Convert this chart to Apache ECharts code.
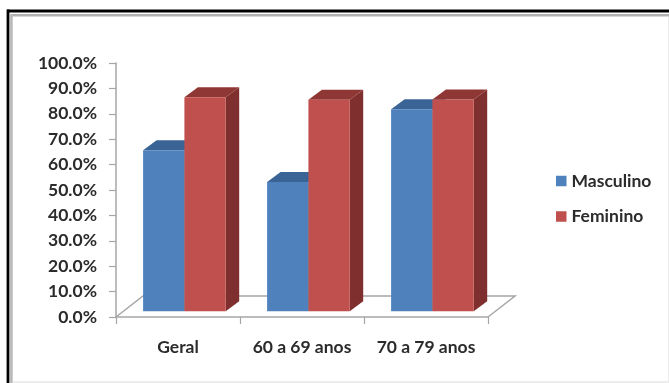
<!DOCTYPE html>
<html>
<head>
<meta charset="utf-8">
<script src="https://cdn.jsdelivr.net/npm/echarts@6/dist/echarts.min.js"></script>
<style>html,body{margin:0;padding:0;background:#fff}#c{width:669px;height:383px}</style>
</head>
<body>
<div id="c"></div>
<script>
const categories = ['Geral', '60 a 69 anos', '70 a 79 anos'];
const masculino = [63.4, 50.9, 79.5];
const feminino = [84.3, 83.3, 83.4];
const yTicks = [0, 10, 20, 30, 40, 50, 60, 70, 80, 90, 100];

const TEXT = '#2b2b2b';
const FONT = 'Lato, "Noto Sans", sans-serif';
const FONT_SIZE = 17.5;
const DEPTH_X = 27, DEPTH_Y = -21;          // full floor depth
const BAR_DX = 13.5, BAR_DY = -10;          // extruded depth of a bar
const BAR_W = 41.3;
const LINE = '#a6a6a6';

// Draws one extruded bar: front face, top face and right side face.
function bar3d(palette, side) {
  return function (params, api) {
    const cat = api.value(0), val = api.value(1);
    const base = api.coord([cat, 0]);
    const top = api.coord([cat, val]);
    const ox = 6.4 + (side === 0 ? -BAR_W : 0);
    const oy = -5.7;
    const x0 = base[0] + ox, x1 = x0 + BAR_W;
    const yb = base[1] + oy, yt = top[1] + oy;
    const poly = (pts, fill) => ({ type: 'polygon', shape: { points: pts }, style: { fill } });
    return {
      type: 'group',
      children: [
        poly([[x1, yb], [x1 + BAR_DX, yb + BAR_DY], [x1 + BAR_DX, yt + BAR_DY], [x1, yt]], palette.side),
        poly([[x0, yt], [x0 + BAR_DX, yt + BAR_DY], [x1 + BAR_DX, yt + BAR_DY], [x1, yt]], palette.top),
        poly([[x0, yb], [x1, yb], [x1, yt], [x0, yt]], palette.front)
      ]
    };
  };
}

// Outline of the chart floor behind the bars.
function floorItem(params, api) {
  const band = api.size([1, 0])[0];
  const a = api.coord([0, 0]);
  const b = api.coord([categories.length - 1, 0]);
  const left = a[0] - band / 2, right = b[0] + band / 2, y = a[1];
  return {
    type: 'polyline',
    shape: { points: [[left, y], [left + DEPTH_X, y + DEPTH_Y], [right + DEPTH_X, y + DEPTH_Y], [right, y]] },
    style: { stroke: LINE, lineWidth: 1.5, fill: 'none' }
  };
}

const rule = (x1, y1, x2, y2, stroke, lineWidth) => ({
  type: 'line', z: -1, shape: { x1, y1, x2, y2 }, style: { stroke, lineWidth }
});

const chart = echarts.init(document.getElementById('c'), null, { renderer: 'canvas' });
chart.setOption({
  animation: false,
  backgroundColor: '#fff',
  graphic: [
    rule(7, 11, 669, 11, '#000', 3.2),
    rule(8, 9.4, 8, 383, '#000', 2.8),
    rule(12, 15.3, 669, 15.3, '#b0b0b0', 2.4),
    rule(11.4, 14, 11.4, 383, '#b8b8b8', 2.6),
    rule(12, 382, 669, 382, '#dcdcdc', 1.2),
    rule(668.5, 17, 668.5, 383, '#ececec', 1)
  ],
  grid: { left: 116, top: 63, width: 372, height: 254, containLabel: false },
  legend: {
    left: 551,
    top: 167,
    orient: 'vertical',
    itemWidth: 10.5,
    itemHeight: 10.5,
    itemGap: 17.5,
    selectedMode: false,
    icon: 'rect',
    textStyle: { fontFamily: FONT, fontSize: FONT_SIZE, fontWeight: 'bold', color: TEXT },
    data: [
      { name: 'Masculino', itemStyle: { color: '#4f81bd' } },
      { name: 'Feminino', itemStyle: { color: '#c0504d' } }
    ]
  },
  xAxis: {
    type: 'category',
    data: categories,
    axisLine: { lineStyle: { color: LINE, width: 1.5 } },
    axisTick: { show: true, interval: 0, length: 7, lineStyle: { color: LINE, width: 1.2 } },
    axisLabel: { interval: 0, hideOverlap: false, margin: 21, fontFamily: FONT, fontSize: FONT_SIZE, fontWeight: 'bold', color: TEXT }
  },
  yAxis: {
    type: 'value',
    min: 0,
    max: 100,
    interval: yTicks[1] - yTicks[0],
    axisLine: { show: true, lineStyle: { color: LINE, width: 1.5 } },
    axisTick: { show: true, length: 7, lineStyle: { color: LINE, width: 1.2 } },
    splitLine: { show: false },
    axisLabel: {
      margin: 19,
      fontFamily: FONT,
      fontSize: FONT_SIZE,
      fontWeight: 'bold',
      color: TEXT,
      formatter: v => v.toFixed(1) + '%'
    }
  },
  series: [
    {
      type: 'custom', name: 'floor', silent: true, z: 1,
      renderItem: floorItem,
      data: [[0, 0]], encode: { x: 0, y: 1 }
    },
    {
      type: 'custom', name: 'Masculino', z: 2,
      renderItem: bar3d({ front: '#4f81bd', top: '#3a6496', side: '#3a6496' }, 0),
      data: masculino.map((v, i) => [i, v]), encode: { x: 0, y: 1 },
      itemStyle: { color: '#4f81bd' }
    },
    {
      type: 'custom', name: 'Feminino', z: 3,
      renderItem: bar3d({ front: '#c0504d', top: '#8f3734', side: '#7f302e' }, 1),
      data: feminino.map((v, i) => [i, v]), encode: { x: 0, y: 1 },
      itemStyle: { color: '#c0504d' }
    }
  ]
});
</script>
</body>
</html>
